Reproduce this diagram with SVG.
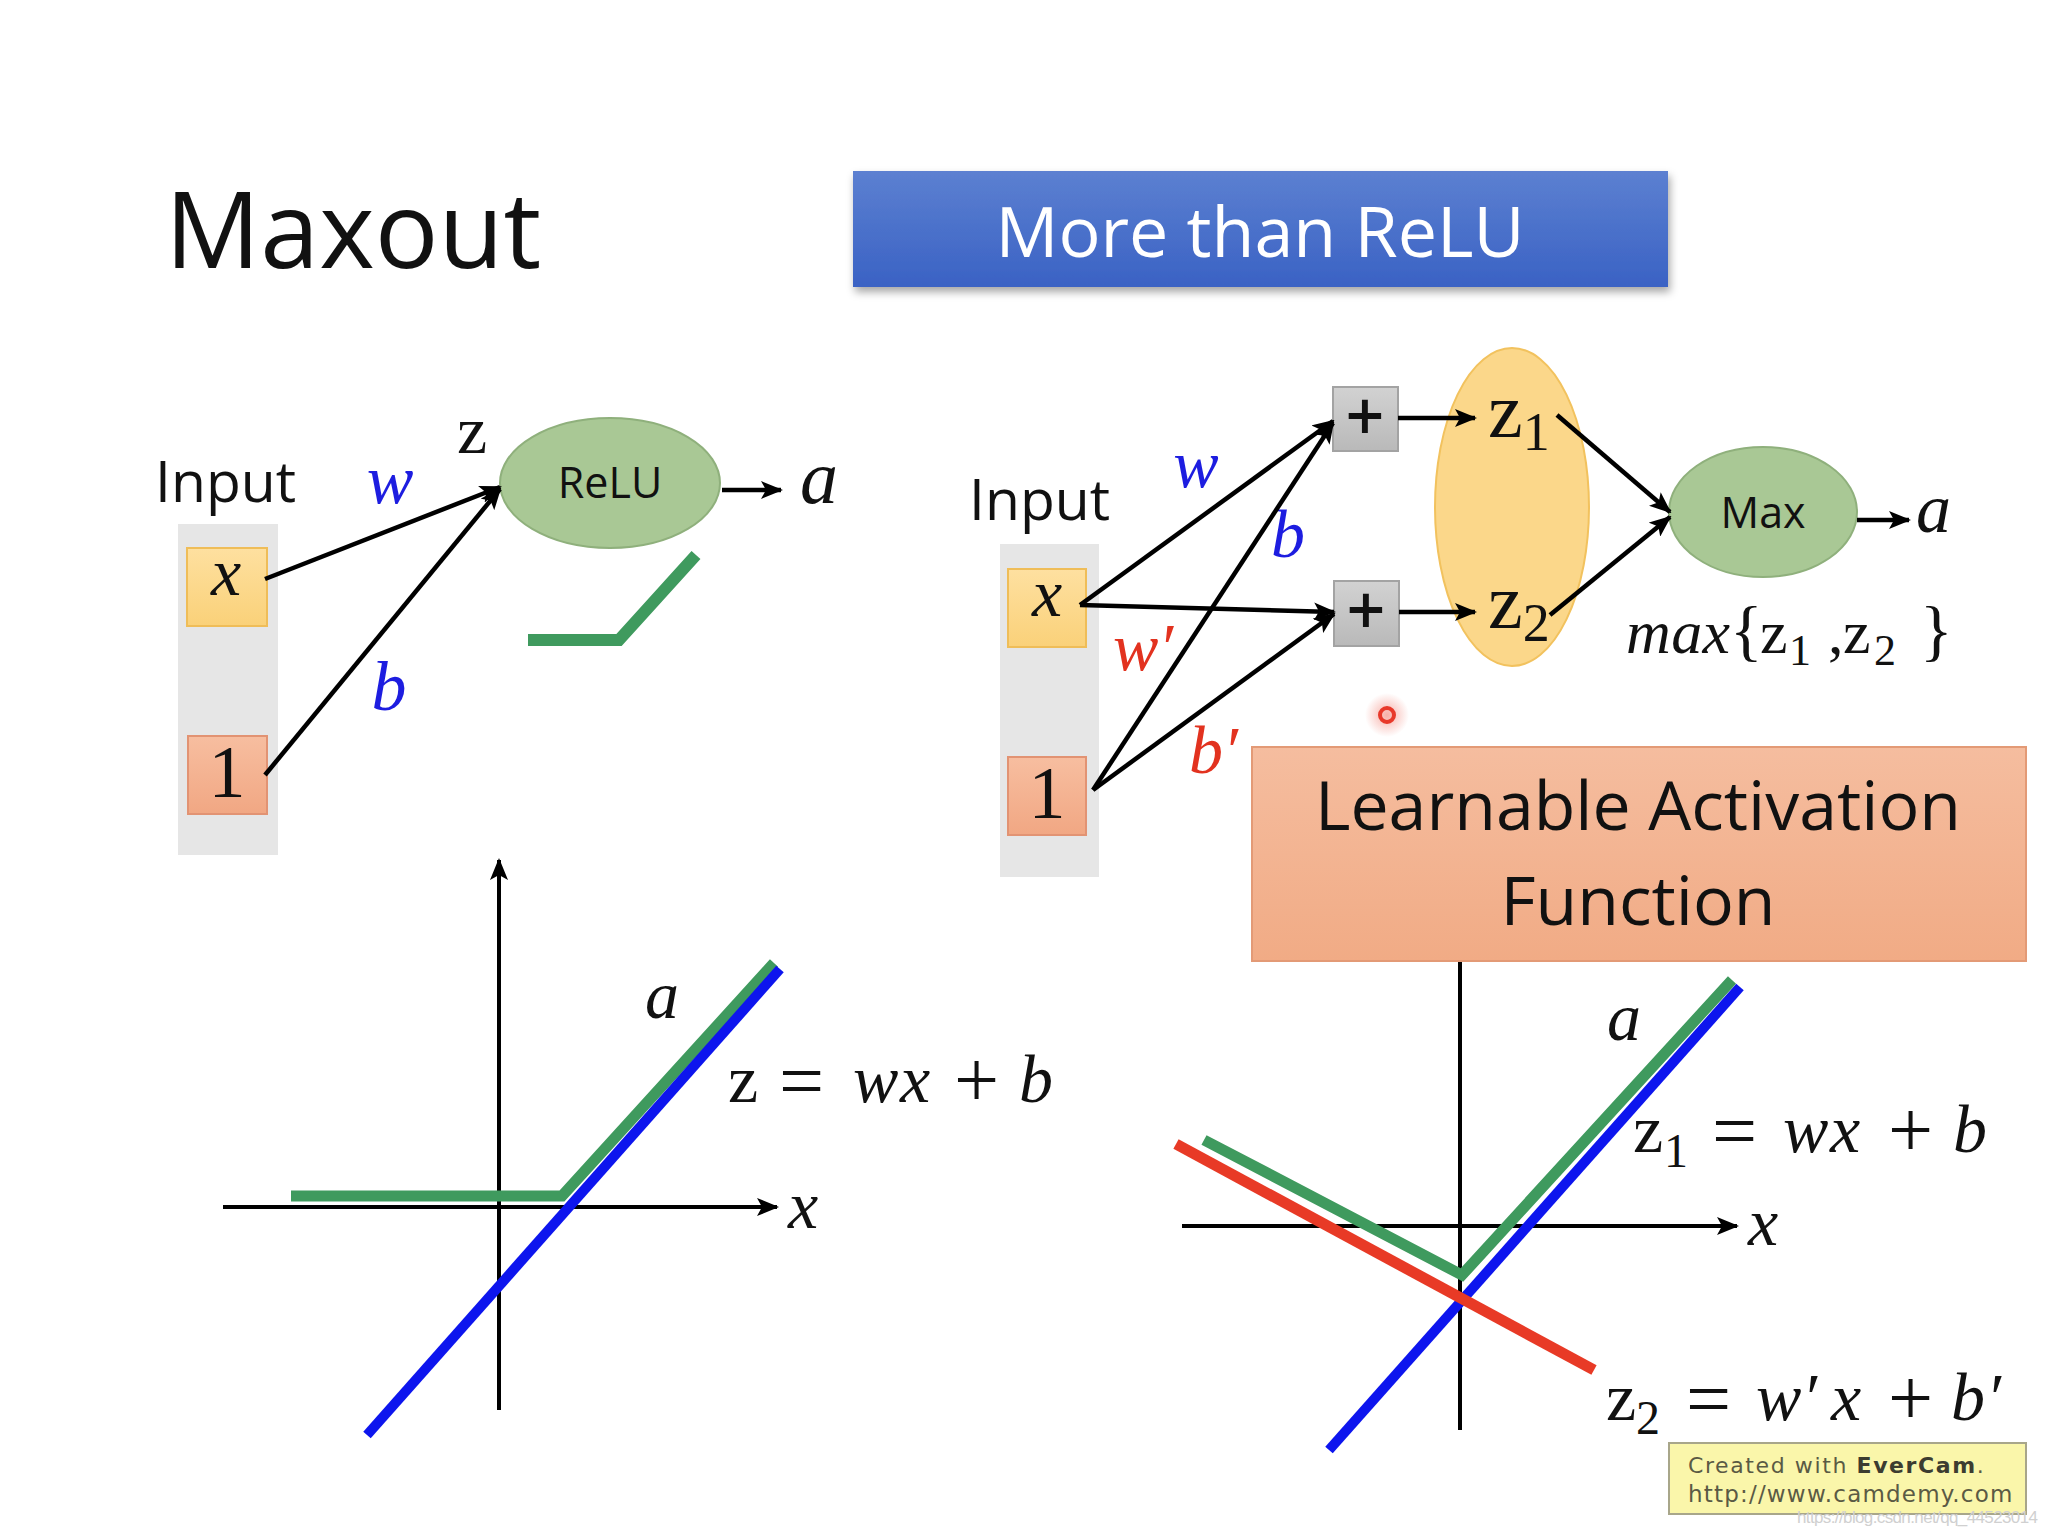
<svg xmlns="http://www.w3.org/2000/svg" width="2048" height="1536" viewBox="0 0 2048 1536">
<defs>
  <style>
    .sans{font-family:"Open Sans","Noto Sans","Liberation Sans",sans-serif;fill:#111}
    .m{font-family:"Liberation Serif","DejaVu Serif",serif;fill:#111}
    .it{font-style:italic}
    .op{font-size:80px}
    .blue{fill:#1d1de0}
    .red{fill:#e2321f}
    .conn{stroke:#000;stroke-width:4.5;fill:none;marker-end:url(#arr)}
    .axis{stroke:#000;stroke-width:4;fill:none}
    .col{fill:#e6e6e6}
    .xbox{fill:url(#gx);stroke:#efbd58;stroke-width:2}
    .obox{fill:url(#go);stroke:#e29373;stroke-width:2}
    .ell{fill:#a9c895;stroke:#8fb07c;stroke-width:2}
    .plus{fill:url(#gp);stroke:#a3a3a3;stroke-width:2}
    .gline{stroke:#3f9a5e;stroke-width:11;fill:none}
    .bline{stroke:#0d15ee;stroke-width:10;fill:none}
    .rline{stroke:#e83a26;stroke-width:11;fill:none}
    .ec{font-family:"DejaVu Sans",Verdana,sans-serif;fill:#5a5a44}
  </style>
  <marker id="arr" markerUnits="userSpaceOnUse" markerWidth="22" markerHeight="18" refX="20" refY="9" orient="auto">
    <path d="M0,0 L22,9 L0,18 L5,9 Z" fill="#000"/>
  </marker>
  <linearGradient id="gb" x1="0" y1="0" x2="0" y2="1">
    <stop offset="0" stop-color="#5c80d1"/>
    <stop offset="1" stop-color="#3a62c4"/>
  </linearGradient>
  <linearGradient id="gx" x1="0" y1="0" x2="0" y2="1">
    <stop offset="0" stop-color="#fee0a0"/>
    <stop offset="1" stop-color="#fad179"/>
  </linearGradient>
  <linearGradient id="go" x1="0" y1="0" x2="0" y2="1">
    <stop offset="0" stop-color="#f7bea0"/>
    <stop offset="1" stop-color="#f1a783"/>
  </linearGradient>
  <linearGradient id="gl" x1="0" y1="0" x2="0" y2="1">
    <stop offset="0" stop-color="#f5bd9f"/>
    <stop offset="1" stop-color="#f1ab85"/>
  </linearGradient>
  <linearGradient id="gp" x1="0" y1="0" x2="0" y2="1">
    <stop offset="0" stop-color="#d2d2d2"/>
    <stop offset="1" stop-color="#b9b9b9"/>
  </linearGradient>
  <filter id="sh" x="-5%" y="-20%" width="110%" height="150%">
    <feDropShadow dx="2" dy="5" stdDeviation="4" flood-color="#000" flood-opacity="0.35"/>
  </filter>
  <radialGradient id="glow">
    <stop offset="0" stop-color="#f06050" stop-opacity="0.5"/>
    <stop offset="1" stop-color="#f06050" stop-opacity="0"/>
  </radialGradient>
</defs>
<rect width="2048" height="1536" fill="#ffffff"/>

<g id="title">
  <text class="sans" x="165" y="268" font-size="106">Maxout</text>
</g>

<g id="banner">
  <rect x="853" y="171" width="815" height="116" fill="url(#gb)" filter="url(#sh)"/>
  <text class="sans" x="1260" y="257" font-size="70" text-anchor="middle" style="fill:#fff">More than ReLU</text>
</g>

<!-- LEFT NETWORK -->
<g id="left-input">
  <text class="sans" x="155" y="502" font-size="57">Input</text>
  <rect class="col" x="178" y="524" width="100" height="331"/>
</g>
<g id="left-x">
  <rect class="xbox" x="187" y="548" width="80" height="78"/>
  <text class="m it" x="226" y="595" font-size="68" text-anchor="middle">x</text>
</g>
<g id="left-one">
  <rect class="obox" x="188" y="736" width="79" height="78"/>
  <text class="m" x="227" y="797" font-size="74" text-anchor="middle">1</text>
</g>
<g id="relu">
  <ellipse class="ell" cx="610" cy="483" rx="110" ry="65"/>
  <text class="sans" x="610" y="498" font-size="43" text-anchor="middle">ReLU</text>
  <polyline class="gline" points="528,640 619,640 696,555" style="stroke-width:12"/>
</g>
<g id="left-labels">
  <text class="m" x="472" y="453" font-size="68" text-anchor="middle">z</text>
  <text class="m it blue" x="390" y="503" font-size="70" text-anchor="middle">w</text>
  <text class="m it blue" x="389" y="710" font-size="70" text-anchor="middle">b</text>
  <text class="m it" x="800" y="503" font-size="76">a</text>
</g>

<!-- RIGHT NETWORK -->
<g id="right-input">
  <text class="sans" x="969" y="520" font-size="57">Input</text>
  <rect class="col" x="1000" y="544" width="99" height="333"/>
</g>
<g id="right-x">
  <rect class="xbox" x="1008" y="569" width="78" height="78"/>
  <text class="m it" x="1047" y="616" font-size="68" text-anchor="middle">x</text>
</g>
<g id="right-one">
  <rect class="obox" x="1008" y="757" width="78" height="78"/>
  <text class="m" x="1047" y="818" font-size="74" text-anchor="middle">1</text>
</g>
<g id="plus1">
  <rect class="plus" x="1333" y="387" width="65" height="64"/>
  <text class="sans" x="1365" y="441" font-size="68" font-weight="600" text-anchor="middle">+</text>
</g>
<g id="plus2">
  <rect class="plus" x="1334" y="581" width="65" height="65"/>
  <text class="sans" x="1366" y="635" font-size="68" font-weight="600" text-anchor="middle">+</text>
</g>
<g id="zgroup">
  <ellipse cx="1512" cy="507" rx="77" ry="159" fill="#fbd78a" stroke="#f2c25e" stroke-width="2"/>
  <text class="m" x="1488" y="437" font-size="78">z<tspan font-size="54" dy="13">1</tspan></text>
  <text class="m" x="1488" y="628" font-size="78">z<tspan font-size="54" dy="13">2</tspan></text>
</g>
<g id="max">
  <ellipse class="ell" cx="1763" cy="512" rx="94" ry="65"/>
  <text class="sans" x="1763" y="528" font-size="43" text-anchor="middle">Max</text>
  <text class="m it" x="1916" y="532" font-size="70">a</text>
</g>
<g id="max-formula">
  <text class="m" y="653" font-size="62">
    <tspan x="1626" class="it" textLength="104">max</tspan><tspan x="1730" font-size="68">{</tspan><tspan x="1760">z</tspan><tspan x="1789" y="665" font-size="44">1</tspan><tspan x="1828" y="653">,</tspan><tspan x="1843">z</tspan><tspan x="1874" y="665" font-size="44">2</tspan><tspan x="1920" y="653" font-size="68">}</tspan>
  </text>
</g>
<g id="right-labels">
  <text class="m it blue" x="1196" y="487" font-size="68" text-anchor="middle">w</text>
  <text class="m it blue" x="1288" y="557" font-size="68" text-anchor="middle">b</text>
  <text class="m it red" x="1113" y="670" font-size="68">w′</text>
  <text class="m it red" x="1189" y="773" font-size="68">b′</text>
</g>

<g id="connectors">
  <line class="conn" x1="265" y1="579" x2="500" y2="487"/>
  <line class="conn" x1="265" y1="775" x2="500" y2="489"/>
  <line class="conn" x1="722" y1="490" x2="781" y2="490"/>
  <line class="conn" x1="1080" y1="605" x2="1333" y2="421"/>
  <line class="conn" x1="1080" y1="605" x2="1334" y2="612"/>
  <line class="conn" x1="1093" y1="790" x2="1333" y2="423"/>
  <line class="conn" x1="1093" y1="790" x2="1334" y2="614"/>
  <line class="conn" x1="1398" y1="418" x2="1475" y2="418"/>
  <line class="conn" x1="1399" y1="612" x2="1475" y2="612"/>
  <line class="conn" x1="1557" y1="415" x2="1670" y2="512"/>
  <line class="conn" x1="1550" y1="615" x2="1670" y2="517"/>
  <line class="conn" x1="1857" y1="520" x2="1909" y2="520"/>
</g>

<g id="pointer">
  <circle cx="1387" cy="715" r="22" fill="url(#glow)"/>
  <circle cx="1387" cy="715" r="7" fill="none" stroke="#e8392a" stroke-width="4"/>
</g>

<g id="learnable">
  <rect x="1252" y="747" width="774" height="214" fill="url(#gl)" stroke="#e39a76" stroke-width="2"/>
  <text class="sans" x="1638" y="830" font-size="68" text-anchor="middle">Learnable Activation</text>
  <text class="sans" x="1638" y="925" font-size="68" text-anchor="middle">Function</text>
</g>

<!-- LEFT PLOT -->
<g id="left-plot">
  <line class="axis" x1="499" y1="1410" x2="499" y2="860" marker-end="url(#arr)"/>
  <line class="axis" x1="223" y1="1207" x2="777" y2="1207" marker-end="url(#arr)"/>
  <polyline class="gline" points="291,1196 562,1196 774,963"/>
  <line class="bline" x1="367" y1="1435" x2="780" y2="969"/>
  <text class="m it" x="645" y="1018" font-size="68">a</text>
  <text class="m it" x="788" y="1228" font-size="68">x</text>
  <text class="m" y="1102" font-size="68"><tspan x="728">z</tspan><tspan x="779" y="1108" class="op">=</tspan><tspan x="853" y="1102" class="it">w</tspan><tspan x="900" class="it">x</tspan><tspan x="954" y="1107" class="op">+</tspan><tspan x="1019" y="1102" class="it">b</tspan></text>
</g>

<!-- RIGHT PLOT -->
<g id="right-plot">
  <line class="axis" x1="1460" y1="962" x2="1460" y2="1430"/>
  <line class="axis" x1="1182" y1="1226" x2="1737" y2="1226" marker-end="url(#arr)"/>
  <line class="bline" x1="1329" y1="1450" x2="1740" y2="987"/>
  <polyline class="gline" points="1204,1140 1462,1275 1732,980"/>
  <line class="rline" x1="1176" y1="1144" x2="1594" y2="1370"/>
  <text class="m it" x="1607" y="1040" font-size="68">a</text>
  <text class="m it" x="1748" y="1245" font-size="68">x</text>
  <text class="m" y="1152" font-size="68"><tspan x="1633">z</tspan><tspan x="1664" y="1167" font-size="48">1</tspan><tspan x="1712" y="1158" class="op">=</tspan><tspan x="1783" y="1152" class="it">w</tspan><tspan x="1830" class="it">x</tspan><tspan x="1888" y="1157" class="op">+</tspan><tspan x="1953" y="1152" class="it">b</tspan></text>
  <text class="m" y="1420" font-size="68"><tspan x="1606">z</tspan><tspan x="1636" y="1434" font-size="48">2</tspan><tspan x="1686" y="1426" class="op">=</tspan><tspan x="1756" y="1420" class="it">w</tspan><tspan x="1802" class="it">′</tspan><tspan x="1831" class="it">x</tspan><tspan x="1888" y="1425" class="op">+</tspan><tspan x="1951" y="1420" class="it">b</tspan><tspan x="1986" class="it">′</tspan></text>
</g>

<g id="evercam">
  <rect x="1669" y="1443" width="357" height="71" fill="#faf6aa" stroke="#a8a68a" stroke-width="2"/>
  <text class="ec" x="1688" y="1473" font-size="22" letter-spacing="1.6">Created with <tspan font-weight="bold" fill="#3c3c30">EverCam</tspan>.</text>
  <text class="ec" x="1688" y="1502" font-size="23" letter-spacing="1.2">http://www.camdemy.com</text>
  <text x="1797" y="1523" font-family="Liberation Sans,Arial,sans-serif" font-size="17" fill="#d0d0d0" textLength="241">https://blog.csdn.net/qq_44523014</text>
</g>
</svg>
